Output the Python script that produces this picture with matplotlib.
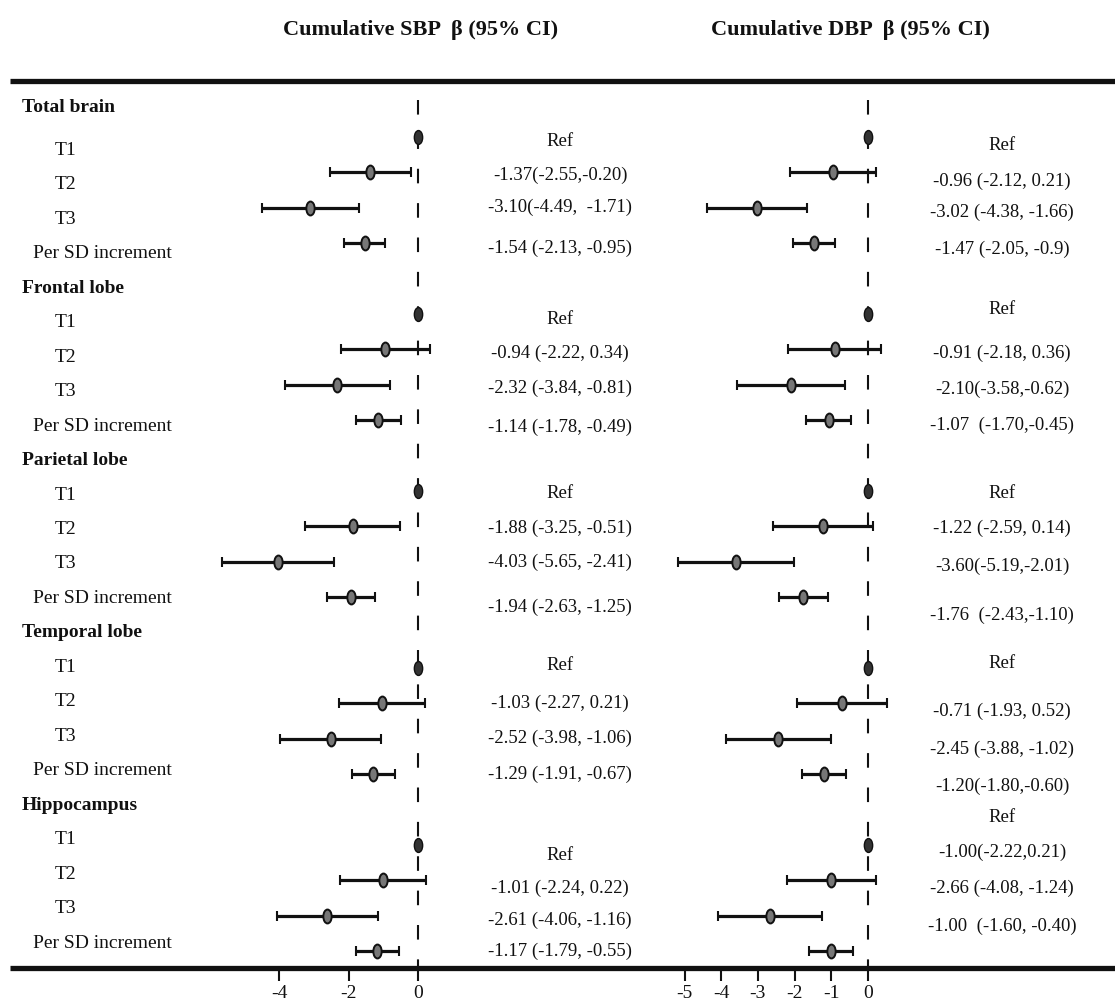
import matplotlib
matplotlib.use("Agg")
import matplotlib.pyplot as plt
from matplotlib.path import Path
from matplotlib.transforms import Affine2D

plt.rcParams.update({
    "font.family": ["Liberation Serif", "DejaVu Serif"],
    "axes.unicode_minus": False,
    "text.color": "#111111",
    "xtick.color": "#111111",
})

GROUPS = ["Total brain", "Frontal lobe", "Parietal lobe", "Temporal lobe", "Hippocampus"]
LEVELS = ["T1", "T2", "T3", "Per SD increment"]

# beta and 95% CI per group, order T1 (reference), T2, T3, per SD increment
SBP_EST = [[0, -1.37, -3.10, -1.54], [0, -0.94, -2.32, -1.14], [0, -1.88, -4.03, -1.94],
           [0, -1.03, -2.52, -1.29], [0, -1.01, -2.61, -1.17]]
SBP_LO = [[0, -2.55, -4.49, -2.13], [0, -2.22, -3.84, -1.78], [0, -3.25, -5.65, -2.63],
          [0, -2.27, -3.98, -1.91], [0, -2.24, -4.06, -1.79]]
SBP_HI = [[0, -0.20, -1.71, -0.95], [0, 0.34, -0.81, -0.49], [0, -0.51, -2.41, -1.25],
          [0, 0.21, -1.06, -0.67], [0, 0.22, -1.16, -0.55]]
SBP_TEXT = [
    ["Ref", "-1.37(-2.55,-0.20)", "-3.10(-4.49,  -1.71)", "-1.54 (-2.13, -0.95)"],
    ["Ref", "-0.94 (-2.22, 0.34)", "-2.32 (-3.84, -0.81)", "-1.14 (-1.78, -0.49)"],
    ["Ref", "-1.88 (-3.25, -0.51)", "-4.03 (-5.65, -2.41)", "-1.94 (-2.63, -1.25)"],
    ["Ref", "-1.03 (-2.27, 0.21)", "-2.52 (-3.98, -1.06)", "-1.29 (-1.91, -0.67)"],
    ["Ref", "-1.01 (-2.24, 0.22)", "-2.61 (-4.06, -1.16)", "-1.17 (-1.79, -0.55)"],
]

DBP_EST = [[0, -0.96, -3.02, -1.47], [0, -0.91, -2.10, -1.07], [0, -1.22, -3.60, -1.76],
           [0, -0.71, -2.45, -1.20], [0, -1.00, -2.66, -1.00]]
DBP_LO = [[0, -2.12, -4.38, -2.05], [0, -2.18, -3.58, -1.70], [0, -2.59, -5.19, -2.43],
          [0, -1.93, -3.88, -1.80], [0, -2.22, -4.08, -1.60]]
DBP_HI = [[0, 0.21, -1.66, -0.90], [0, 0.36, -0.62, -0.45], [0, 0.14, -2.01, -1.10],
          [0, 0.52, -1.02, -0.60], [0, 0.21, -1.24, -0.40]]
DBP_TEXT = [
    ["Ref", "-0.96 (-2.12, 0.21)", "-3.02 (-4.38, -1.66)", "-1.47 (-2.05, -0.9)"],
    ["Ref", "-0.91 (-2.18, 0.36)", "-2.10(-3.58,-0.62)", "-1.07  (-1.70,-0.45)"],
    ["Ref", "-1.22 (-2.59, 0.14)", "-3.60(-5.19,-2.01)", "-1.76  (-2.43,-1.10)"],
    ["Ref", "-0.71 (-1.93, 0.52)", "-2.45 (-3.88, -1.02)", "-1.20(-1.80,-0.60)"],
    ["Ref", "-1.00(-2.22,0.21)", "-2.66 (-4.08, -1.24)", "-1.00  (-1.60, -0.40)"],
]

SBP_TICKS = [-4, -2, 0]
DBP_TICKS = [-5, -4, -3, -2, -1, 0]

# layout in pixels (figure is 1115 x 1007)
W, H = 1115, 1007
TOP_RULE, BOTTOM_RULE = 81, 968
LABEL_Y0, LABEL_STEP = 116, 34.46
MARK_Y0, MARK_STEP = 137, 35.4
# vertical nudge of the estimate text relative to its marker row (pixels, down is +)
SBP_TEXT_OFF = [[5, 3, 0, 5], [5, 4, 4, 7], [3, 2, 1, 10], [-2, 0, 0, 0], [10, 8, 5, 0]]
DBP_TEXT_OFF = [[8, 9, 5, 6], [-5, 4, 5, 5], [2, 2, 5, 18], [-4, 8, 11, 12], [-28, -28, -27, -25]]

ELLIPSE = Path.unit_circle().transformed(Affine2D().scale(0.6, 1.0))


def forest_axes(fig, x0, x1, zero_px, px_per_unit, ticks):
    ax = fig.add_axes([x0 / W, (H - BOTTOM_RULE) / H, (x1 - x0) / W, (BOTTOM_RULE - TOP_RULE) / H])
    ax.set_xlim((x0 - zero_px) / px_per_unit, (x1 - zero_px) / px_per_unit)
    ax.set_ylim(BOTTOM_RULE, TOP_RULE)
    ax.patch.set_alpha(0)
    for s in ax.spines.values():
        s.set_visible(False)
    ax.set_yticks([])
    ax.set_xticks(ticks)
    ax.set_xticklabels([str(t) for t in ticks])
    ax.tick_params(axis="x", direction="out", length=9, width=1.5, pad=3, labelsize=14)
    ax.vlines(0, 100, BOTTOM_RULE, colors="#111111", linewidth=1.5, linestyles=(0, (7, 9.5)))
    return ax


def draw_forest(ax, est, lo, hi):
    for g in range(len(GROUPS)):
        for i in range(len(LEVELS)):
            y = MARK_Y0 + MARK_STEP * (g * 5 + i)
            if i == 0:
                ax.plot(est[g][i], y, marker=ELLIPSE, markersize=10, color="#333333",
                        markeredgecolor="#111111", zorder=3)
                continue
            ax.errorbar(est[g][i], y, xerr=[[est[g][i] - lo[g][i]], [hi[g][i] - est[g][i]]],
                        fmt="none", ecolor="#111111", elinewidth=2.3, capsize=3.8, capthick=1.5)
            ax.plot(est[g][i], y, marker=ELLIPSE, markersize=10, color="#777777",
                    markeredgecolor="#111111", markeredgewidth=1.4, zorder=3)


fig = plt.figure(figsize=(W / 100, H / 100), dpi=100)
bg = fig.add_axes([0, 0, 1, 1])
bg.set_xlim(0, W)
bg.set_ylim(H, 0)
bg.axis("off")

bg.text(421, 30, "Cumulative SBP  β (95% CI)", ha="center", va="center", fontsize=16, fontweight="bold")
bg.text(850, 30, "Cumulative DBP  β (95% CI)", ha="center", va="center", fontsize=16, fontweight="bold")
bg.plot([10, W], [TOP_RULE, TOP_RULE], color="#111111", linewidth=3.8, solid_capstyle="butt")
bg.plot([10, W], [BOTTOM_RULE, BOTTOM_RULE], color="#111111", linewidth=3.8, solid_capstyle="butt")

for g, name in enumerate(GROUPS):
    yh = LABEL_Y0 + LABEL_STEP * g * 5 - (9 if g == 0 else 0)
    bg.text(22, yh, name, ha="left", va="center", fontsize=14, fontweight="bold")
    for i, lev in enumerate(LEVELS):
        yl = LABEL_Y0 + LABEL_STEP * (g * 5 + i + 1)
        bg.text(55 if i < 3 else 33, yl, lev, ha="left", va="center", fontsize=14)
        ym = MARK_Y0 + MARK_STEP * (g * 5 + i)
        bg.text(560, ym + SBP_TEXT_OFF[g][i], SBP_TEXT[g][i], ha="center", va="center", fontsize=13.5)
        bg.text(1002, ym + DBP_TEXT_OFF[g][i], DBP_TEXT[g][i], ha="center", va="center", fontsize=13.5)

ax_sbp = forest_axes(fig, 200, 445, 418, 34.7, SBP_TICKS)
draw_forest(ax_sbp, SBP_EST, SBP_LO, SBP_HI)
ax_dbp = forest_axes(fig, 640, 900, 868, 36.7, DBP_TICKS)
draw_forest(ax_dbp, DBP_EST, DBP_LO, DBP_HI)

fig.savefig("out.png", dpi=100)
